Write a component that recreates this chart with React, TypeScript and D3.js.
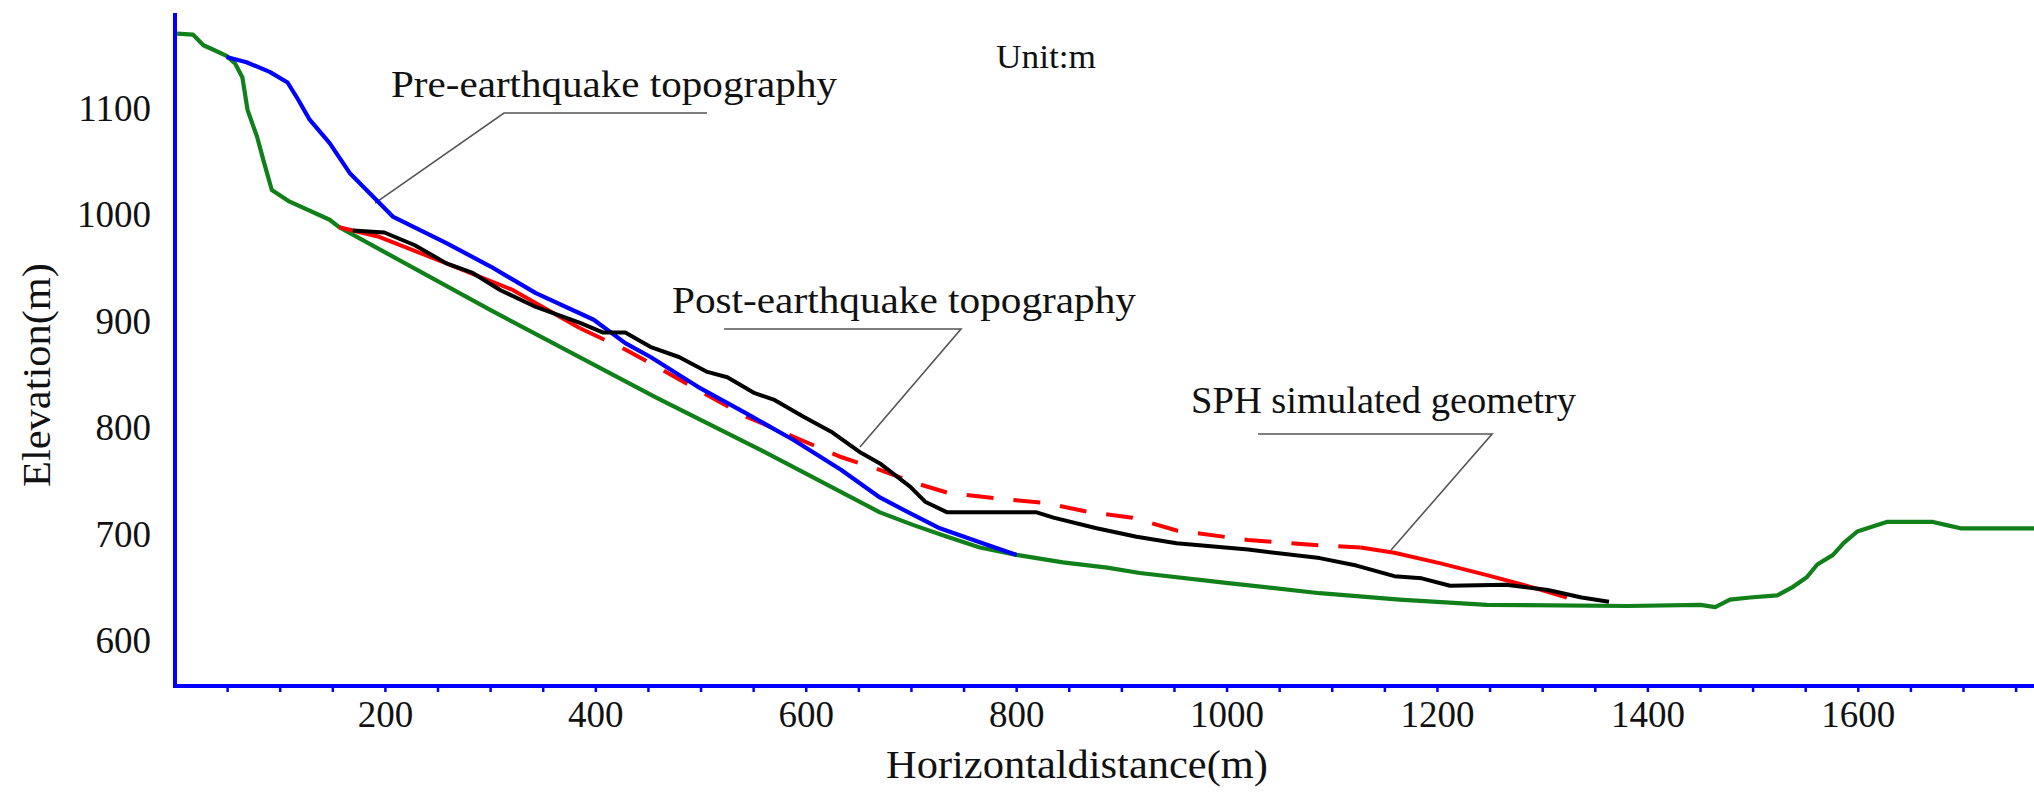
import React from "react";
import * as d3 from "d3";

// Profile series: [horizontal distance (m), elevation (m)]
const slidingSurface: [number, number][] = [
  [2, 1170], [17, 1169], [27, 1159], [36, 1155], [49, 1149], [57, 1142], [64, 1129],
  [69, 1098], [78, 1073], [84, 1051], [92, 1023], [109, 1012], [147, 995], [156, 988],
  [300, 910], [457, 828], [556, 779], [670, 720], [702, 708], [734, 697], [765, 687],
  [800, 680], [844, 673], [886, 668], [917, 663], [997, 654], [1088, 644], [1164, 638],
  [1247, 633], [1381, 632], [1450, 633], [1464, 631], [1478, 638], [1497, 640],
  [1523, 642], [1538, 650], [1551, 659], [1561, 671], [1576, 680], [1586, 691],
  [1599, 702], [1618, 708], [1627, 711], [1671, 711], [1684, 708], [1697, 705], [1767, 705],
];

const preEarthquake: [number, number][] = [
  [49, 1148], [68, 1143], [90, 1134], [107, 1124], [117, 1108], [128, 1089], [147, 1067],
  [166, 1039], [207, 998], [258, 973], [300, 951], [343, 926], [398, 901], [428, 879],
  [452, 866], [497, 838], [543, 813], [588, 788], [633, 760], [670, 734], [699, 719],
  [727, 705], [765, 692], [800, 680],
];

const postEarthquake: [number, number][] = [
  [169, 985], [199, 983], [228, 971], [258, 954], [283, 945], [309, 929], [343, 913],
  [385, 898], [407, 889], [428, 889], [453, 875], [479, 866], [506, 852], [525, 847],
  [551, 832], [569, 826], [597, 810], [625, 795], [652, 776], [670, 766], [699, 744],
  [713, 730], [734, 720], [819, 720], [835, 715], [876, 705], [914, 697], [952, 691],
  [1020, 685], [1088, 677], [1123, 670], [1159, 660], [1185, 658], [1212, 651],
  [1265, 652], [1305, 647], [1337, 640], [1363, 636],
];

// SPH simulated deposit surface: solid head, dashed body, solid toe
const sphHead: [number, number][] = [
  [156, 988], [194, 979], [258, 954], [321, 929], [385, 893],
];
const sphBody: [number, number][] = [
  [385, 893], [428, 873], [452, 860], [497, 835], [543, 810], [588, 791], [633, 772],
  [670, 760], [702, 748], [736, 738], [782, 733], [826, 729], [870, 720], [910, 715],
  [952, 703], [1020, 694], [1088, 689], [1127, 687],
];
const sphToe: [number, number][] = [
  [1127, 687], [1159, 682], [1203, 672], [1247, 661], [1292, 649], [1323, 640],
];

const xLabelTicks = [200, 400, 600, 800, 1000, 1200, 1400, 1600];
const xMinorTicks = d3.range(50, 1767, 50);
const yLabelTicks = [600, 700, 800, 900, 1000, 1100];

// Callouts: label text, label anchor, leader polyline (all in data units)
const callouts = [
  {
    text: "Pre-earthquake topography",
    at: [205.3, 1110.3] as [number, number],
    len: 446,
    leader: [[505.7, 1095.3], [312.7, 1095.3], [190.1, 1010.7]] as [number, number][],
  },
  {
    text: "Post-earthquake topography",
    at: [472.4, 907.3] as [number, number],
    len: 464,
    leader: [[521.9, 892.3], [747.1, 892.3], [651.1, 781.4]] as [number, number][],
  },
  {
    text: "SPH simulated geometry",
    at: [965.8, 813.3] as [number, number],
    len: 385,
    leader: [[1029.5, 793.6], [1251.9, 793.6], [1155.9, 684.6]] as [number, number][],
  },
];
const unitNote = { text: "Unit:m", at: [780.4, 1137.6] as [number, number], len: 100 };

const W = 2034;
const H = 797;
const X0 = 175;
const Y0 = 686;
const YTOP = 13;

export default function App() {
  const x = d3.scaleLinear().domain([0, 1767]).range([X0, W]);
  const y = d3.scaleLinear().domain([556.8, 1189.3]).range([Y0, YTOP]);
  const line = d3
    .line<[number, number]>()
    .x((d) => x(d[0]))
    .y((d) => y(d[1]));

  const font = "'Liberation Serif', 'Times New Roman', serif";
  const axisBlue = "#0000ff";

  return (
    <svg
      width={W}
      height={H}
      viewBox={`0 0 ${W} ${H}`}
      style={{ position: "absolute", left: 0, top: 0, background: "#fff" }}
    >
      <rect x={0} y={0} width={W} height={H} fill="#fff" />

      {/* leader lines */}
      {callouts.map((c) => (
        <path
          key={c.text + "-leader"}
          d={line(c.leader) ?? ""}
          fill="none"
          stroke="#555"
          strokeWidth={1.6}
        />
      ))}

      {/* profiles */}
      <path d={line(slidingSurface) ?? ""} fill="none" stroke="#11801a" strokeWidth={4.2} strokeLinejoin="round" />
      <path d={line(sphHead) ?? ""} fill="none" stroke="#ff0000" strokeWidth={4} strokeLinejoin="round" />
      <path d={line(sphBody) ?? ""} fill="none" stroke="#ff0000" strokeWidth={4} strokeDasharray="27 20" />
      <path d={line(sphToe) ?? ""} fill="none" stroke="#ff0000" strokeWidth={4} strokeLinejoin="round" />
      <path d={line(preEarthquake) ?? ""} fill="none" stroke="#0000ff" strokeWidth={4.2} strokeLinejoin="round" />
      <path d={line(postEarthquake) ?? ""} fill="none" stroke="#000000" strokeWidth={4} strokeLinejoin="round" />

      {/* axes */}
      <line x1={X0} y1={Y0} x2={W} y2={Y0} stroke={axisBlue} strokeWidth={4} />
      <line x1={X0} y1={Y0 + 2} x2={X0} y2={YTOP} stroke={axisBlue} strokeWidth={4} />
      {xMinorTicks.map((t) => (
        <line key={"mt" + t} x1={x(t)} x2={x(t)} y1={Y0} y2={Y0 + 6} stroke={axisBlue} strokeWidth={2.5} />
      ))}
      {xLabelTicks.map((t) => (
        <text
          key={"xl" + t}
          x={x(t)}
          y={Y0 + 41}
          textAnchor="middle"
          fontFamily={font}
          fontSize={37}
          fill="#111"
        >
          {t}
        </text>
      ))}
      {yLabelTicks.map((t) => (
        <text
          key={"yl" + t}
          x={X0 - 24}
          y={y(t) + 13}
          textAnchor="end"
          fontFamily={font}
          fontSize={37}
          fill="#111"
        >
          {t}
        </text>
      ))}

      {/* axis titles */}
      <text
        x={1077}
        y={778}
        textAnchor="middle"
        fontFamily={font}
        fontSize={40}
        textLength={382}
        lengthAdjust="spacingAndGlyphs"
        fill="#111"
      >
        Horizontaldistance(m)
      </text>
      <text
        transform={`translate(50, 375) rotate(-90)`}
        textAnchor="middle"
        fontFamily={font}
        fontSize={40}
        textLength={224}
        lengthAdjust="spacingAndGlyphs"
        fill="#111"
      >
        Elevation(m)
      </text>

      {/* callout labels */}
      {callouts.map((c) => (
        <text
          key={c.text}
          x={x(c.at[0])}
          y={y(c.at[1])}
          fontFamily={font}
          fontSize={37}
          textLength={c.len}
          lengthAdjust="spacingAndGlyphs"
          fill="#111"
        >
          {c.text}
        </text>
      ))}
      <text
        x={x(unitNote.at[0])}
        y={y(unitNote.at[1])}
        fontFamily={font}
        fontSize={34}
        textLength={unitNote.len}
        lengthAdjust="spacingAndGlyphs"
        fill="#111"
      >
        {unitNote.text}
      </text>
    </svg>
  );
}
